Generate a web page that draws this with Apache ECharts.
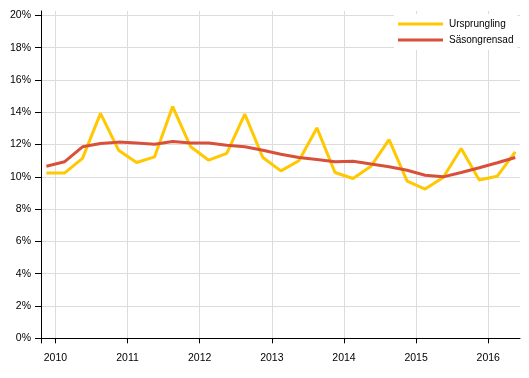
<!DOCTYPE html>
<html><head><meta charset="utf-8">
<script src="https://cdn.jsdelivr.net/npm/echarts@6/dist/echarts.min.js"></script>
<style>html,body{margin:0;padding:0;background:#fff}#c{width:529px;height:378px}</style>
</head><body><div id="c"></div>
<script>
const quarters = ["2009Q4",
  "2010Q1","2010Q2","2010Q3","2010Q4",
  "2011Q1","2011Q2","2011Q3","2011Q4",
  "2012Q1","2012Q2","2012Q3","2012Q4",
  "2013Q1","2013Q2","2013Q3","2013Q4",
  "2014Q1","2014Q2","2014Q3","2014Q4",
  "2015Q1","2015Q2","2015Q3","2015Q4",
  "2016Q1","2016Q2"];
const ursprungling = [10.23, 10.23, 11.14, 13.93, 11.65, 10.89, 11.24, 14.35, 11.86, 11.03, 11.45, 13.88, 11.2, 10.37, 11.0, 13.03, 10.27, 9.9, 10.66, 12.31, 9.73, 9.24, 9.96, 11.76, 9.8, 10.04, 11.55];
const sasongrensad = [10.66, 10.93, 11.86, 12.06, 12.15, 12.09, 12.02, 12.19, 12.1, 12.1, 11.96, 11.86, 11.65, 11.4, 11.2, 11.08, 10.93, 10.97, 10.79, 10.62, 10.41, 10.1, 10.0, 10.27, 10.56, 10.87, 11.2];
const yearTicks = [2010, 2011, 2012, 2013, 2014, 2015, 2016];
const yTicks = [0, 2, 4, 6, 8, 10, 12, 14, 16, 18, 20];
const seriesNames = ["Ursprungling", "Säsongrensad"];

function qx(q) { return parseInt(q.slice(0, 4)) + (parseInt(q.slice(5)) - 0.5) / 4; }
function pairs(vals) { return quarters.map((q, i) => [qx(q), vals[i]]); }

const FONT = "'Liberation Sans', Arial, sans-serif";
const chart = echarts.init(document.getElementById('c'), null, {renderer: 'canvas'});
chart.setOption({
  animation: false,
  backgroundColor: '#fff',
  textStyle: {fontFamily: FONT},
  grid: {left: 41, right: 9, top: 11, bottom: 35, containLabel: false},
  legend: {
    orient: 'vertical', left: 394, top: 14, padding: [5, 4, 5, 4],
    backgroundColor: '#fff', icon: 'rect', itemWidth: 45, itemHeight: 3, itemGap: 6,
    textStyle: {fontFamily: FONT, fontSize: 10, color: '#000', padding: [0, 0, 0, 1]},
    data: seriesNames
  },
  xAxis: {
    type: 'value', min: 2009.8, max: 2016.44,
    axisLine: {show: true, lineStyle: {color: '#000', width: 1}},
    axisTick: {show: true, length: 5, customValues: yearTicks, lineStyle: {color: '#000'}},
    axisLabel: {customValues: yearTicks, formatter: v => String(Math.round(v)), color: '#000', fontSize: 10.5, fontFamily: FONT, margin: 10},
    splitLine: {show: true, lineStyle: {color: '#dcdcdc', width: 1}}
  },
  yAxis: {
    type: 'value', min: -0.29, max: 20.27,
    axisLine: {show: true, lineStyle: {color: '#000', width: 1}},
    axisTick: {show: true, length: 6, customValues: yTicks, lineStyle: {color: '#000'}},
    axisLabel: {customValues: yTicks, formatter: v => Math.round(v) + '%', color: '#000', fontSize: 10.5, fontFamily: FONT, margin: 10},
    splitLine: {show: true, lineStyle: {color: '#dcdcdc', width: 1}}
  },
  series: [
    {
      name: seriesNames[0], type: 'line', data: pairs(ursprungling),
      showSymbol: false, symbol: 'none', color: '#FFC800',
      lineStyle: {width: 3, color: '#FFC800'},
      markLine: {silent: true, symbol: ['none', 'none'], label: {show: false},
        lineStyle: {color: '#000', type: 'solid', width: 1}, data: [{yAxis: 0}]}
    },
    {
      name: seriesNames[1], type: 'line', data: pairs(sasongrensad),
      showSymbol: false, symbol: 'none', color: '#D9503A',
      lineStyle: {width: 3, color: '#D9503A'}
    }
  ]
});
</script></body></html>
